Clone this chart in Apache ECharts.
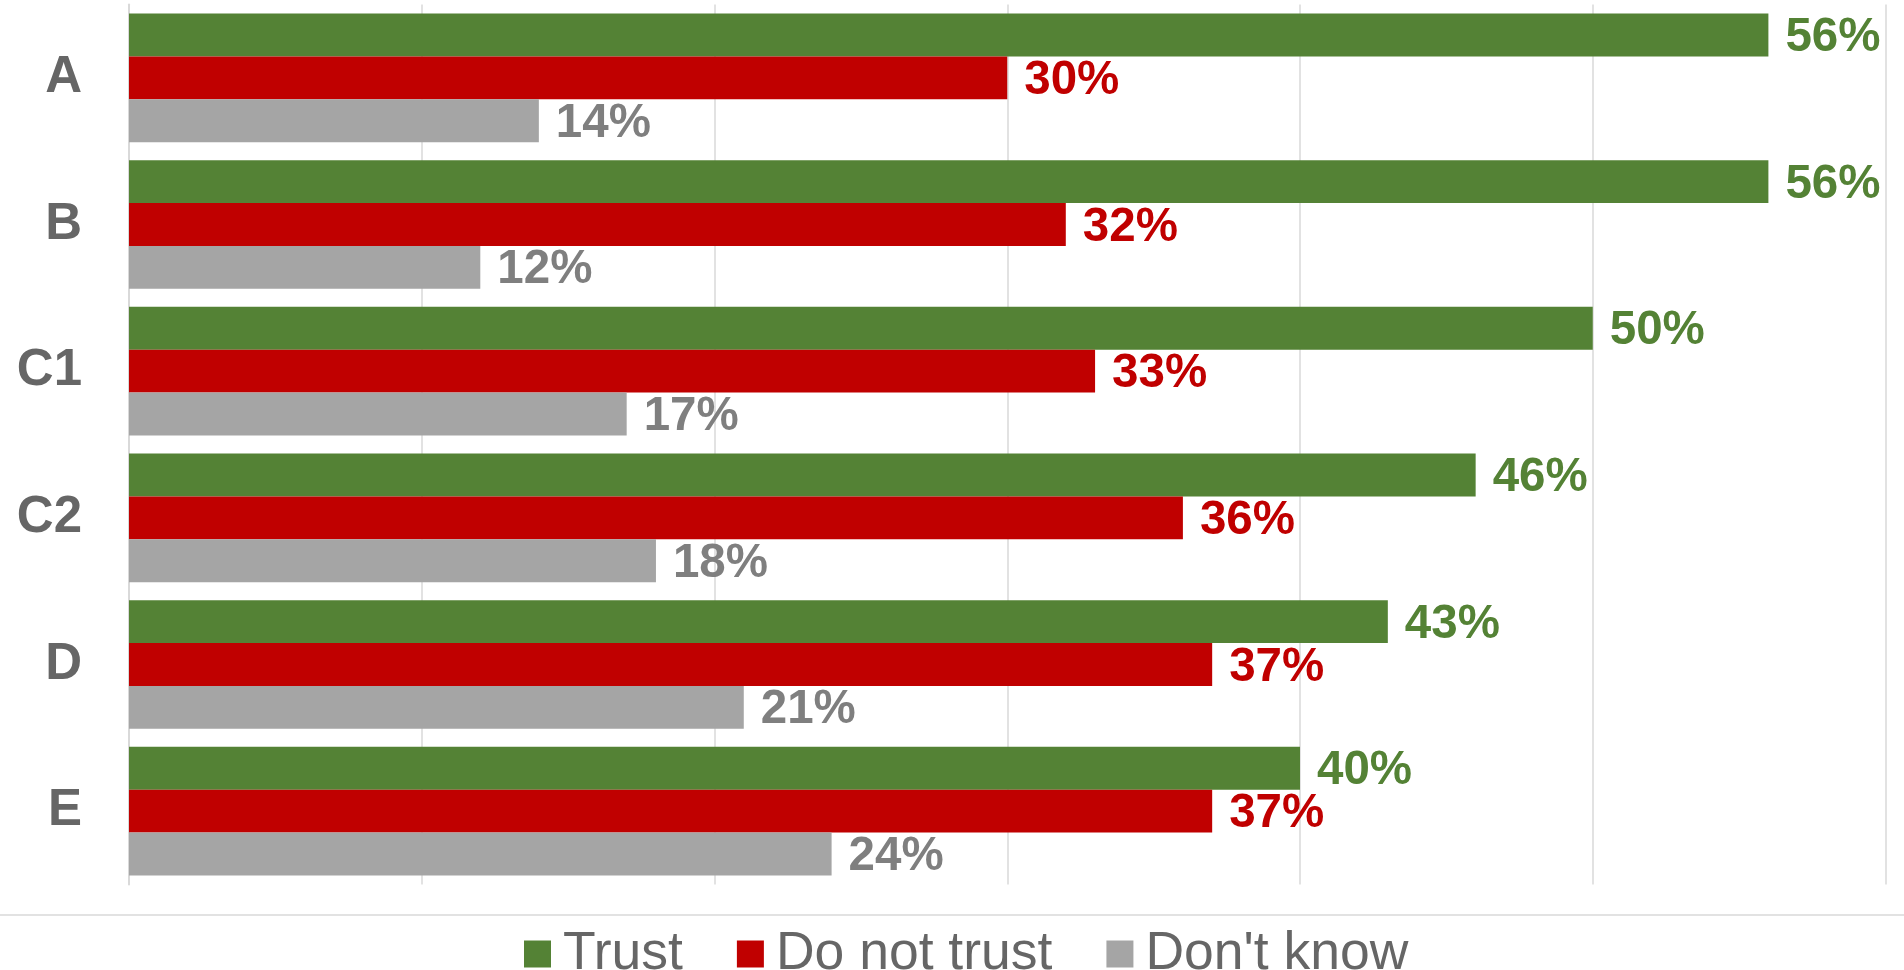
<!DOCTYPE html>
<html>
<head>
<meta charset="utf-8">
<title>Trust by group</title>
<script src="https://cdn.jsdelivr.net/npm/echarts@6/dist/echarts.min.js"></script>
<style>
  html, body { margin: 0; padding: 0; background: #ffffff; }
  #chart { width: 1904px; height: 970px; }
</style>
</head>
<body>
<div id="chart"></div>
<script>
// Groups shown on the vertical axis, top to bottom
const categories = ['A', 'B', 'C1', 'C2', 'D', 'E'];

// Share of answers per group (percent)
const trust = [56, 56, 50, 46, 43, 40];
const doNotTrust = [30, 32, 33, 36, 37, 37];
const dontKnow = [14, 12, 17, 18, 21, 24];

const seriesNames = ['Trust', 'Do not trust', "Don't know"];

const FONT = '"Liberation Sans", Arial, sans-serif';
const barColors = ['#548235', '#C00000', '#A5A5A5'];
const labelColors = ['#548235', '#C00000', '#7F7F7F'];

function makeSeries(name, data, i) {
  return {
    name: name,
    type: 'bar',
    data: data,
    barGap: '0%',
    barCategoryGap: '12.3%',
    itemStyle: { color: barColors[i] },
    label: {
      show: true,
      position: 'right',
      distance: 17,
      offset: [0, 3],
      formatter: '{c}%',
      color: labelColors[i],
      fontFamily: FONT,
      fontWeight: 'bold',
      fontSize: 47.5
    },
    emphasis: { disabled: true },
    animation: false
  };
}

const chart = echarts.init(document.getElementById('chart'), null, { renderer: 'canvas' });

chart.setOption({
  backgroundColor: '#ffffff',
  animation: false,
  grid: {
    left: 129,
    right: 18.5,
    top: 4.5,
    height: 880,
    containLabel: false
  },
  xAxis: {
    type: 'value',
    min: 0,
    max: 60,
    interval: 10,
    axisLabel: { show: false },
    axisTick: { show: false },
    axisLine: { show: false },
    splitLine: { show: true, lineStyle: { color: '#D9D9D9', width: 1.5 } }
  },
  yAxis: {
    type: 'category',
    data: categories,
    inverse: true,
    axisTick: { show: false },
    axisLine: { show: true, lineStyle: { color: '#D9D9D9', width: 2 } },
    axisLabel: {
      color: '#666666',
      fontFamily: FONT,
      fontWeight: 'bold',
      fontSize: 51,
      margin: 47
    }
  },
  legend: {
    data: seriesNames,
    left: 519,
    top: 922,
    itemWidth: 27,
    itemHeight: 27,
    itemGap: 54,
    icon: 'rect',
    textStyle: {
      color: '#666666',
      fontFamily: FONT,
      fontSize: 53.5,
      padding: [0, 0, 0, 7]
    }
  },
  graphic: [{
    type: 'line',
    shape: { x1: 0, y1: 915, x2: 1904, y2: 915 },
    style: { stroke: '#D9D9D9', lineWidth: 1.5 },
    silent: true
  }],
  series: [
    makeSeries(seriesNames[0], trust, 0),
    makeSeries(seriesNames[1], doNotTrust, 1),
    makeSeries(seriesNames[2], dontKnow, 2)
  ]
});
</script>
</body>
</html>
